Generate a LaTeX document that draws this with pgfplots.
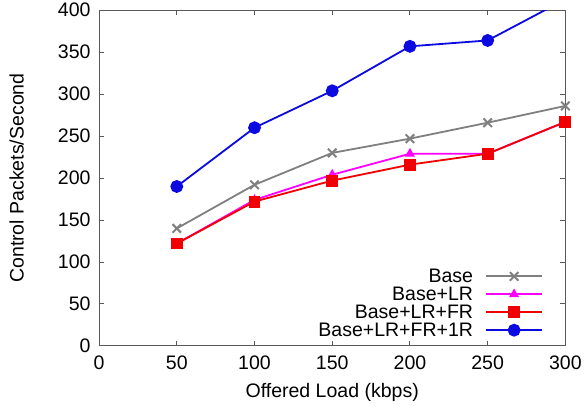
\documentclass[border={6bp 0bp 0bp 0bp}]{standalone}
\usepackage{fontspec}
\setmainfont{Liberation Sans}
\usepackage{pgfplots}
\pgfplotsset{compat=1.18}
\definecolor{cgray}{RGB}{128,128,128}
\definecolor{cmag}{RGB}{255,0,255}
\definecolor{cred}{RGB}{240,0,0}
\definecolor{cblue}{RGB}{10,10,225}
\begin{document}
\begin{tikzpicture}[x=1bp,y=1bp]
\begin{axis}[
  scale only axis,
  width=464bp, height=334bp,
  xmin=0, xmax=300, ymin=0, ymax=400,
  xtick={0,50,...,300}, ytick={0,50,...,400},
  tick align=inside, major tick length=5bp,
  axis line style={black!65, line width=0.9bp},
  every tick/.style={black!65, line width=0.9bp},
  font=\fontsize{19.5}{19.5}\selectfont,
  /pgf/number format/assume math mode=true,
  yticklabel style={xshift=-5bp},
  xticklabel style={yshift=-6bp},
  xlabel={Offered Load (kbps)},
  ylabel={Control Packets/Second},
  xlabel style={at={(axis description cs:0.5,-0.14)}, anchor=center},
  ylabel style={at={(axis description cs:-0.177,0.5)}, anchor=center},
  clip=true,
  legend style={at={(0.955,0.015)}, anchor=south east, draw=none, fill=none,
    inner sep=1bp, row sep=-1bp, font=\fontsize{19.5}{19.5}\selectfont},
  legend cell align=right,
  legend plot pos=right,
  legend image code/.code={\path (0bp,0bp); \draw[mark repeat=2,mark phase=2,#1] plot coordinates {(10bp,0bp) (38bp,0bp) (66bp,0bp)};},
]
\addplot[cgray, line width=1.8bp, mark=x, mark size=6bp, mark options={line width=2bp}]
  coordinates {(50,140) (100,192) (150,230) (200,247) (250,266) (300,286)};
\addlegendentry{Base}
\addplot[cmag, line width=1.8bp, mark=triangle*, mark size=4bp]
  coordinates {(50,122) (100,174) (150,204) (200,229) (250,229) (300,267)};
\addlegendentry{Base+LR}
\addplot[cred, line width=1.8bp, mark=square*, mark size=5bp]
  coordinates {(50,122) (100,172) (150,197) (200,216) (250,229) (300,267)};
\addlegendentry{Base+LR+FR}
\addplot[cblue, line width=1.8bp, mark=*, mark size=5.5bp]
  coordinates {(50,190) (100,260) (150,304) (200,357) (250,364) (300,413)};
\addlegendentry{Base+LR+FR+1R}
\end{axis}
\end{tikzpicture}
\end{document}
